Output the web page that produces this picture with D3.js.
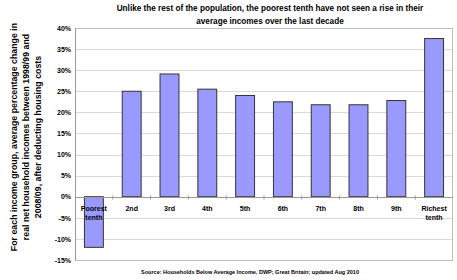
<!DOCTYPE html>
<html>
<head>
<meta charset="utf-8">
<style>
  body { margin: 0; background: #fff; font-family: "Liberation Sans", Arial, sans-serif; }
  text { font-weight: bold; fill: #000; }
</style>
<script src="https://cdn.jsdelivr.net/npm/d3@7"></script>
</head>
<body>
<script>
// chart data
var groups = ["Poorest tenth", "2nd", "3rd", "4th", "5th", "6th", "7th", "8th", "9th", "Richest tenth"];
var changes = [-12, 25, 29.1, 25.5, 24, 22.5, 21.8, 21.8, 22.8, 37.5];
var yTicks = [-15, -10, -5, 0, 5, 10, 15, 20, 25, 30, 35, 40];

var titleLines = ["Unlike the rest of the population, the poorest tenth have not seen a rise in their",
                  "average incomes over the last decade"];
var yLabelLines = ["For each income group, average percentage change in",
                   "real net household incomes between 1998/99 and",
                   "2008/09, after deducting housing costs"];
var sourceText = "Source: Households Below Average Income, DWP; Great Britain; updated Aug 2010";

var W = 457, H = 280;
var plot = {left: 75, right: 453, top: 28, bottom: 260};

var svg = d3.select("body").append("svg")
  .attr("width", W)
  .attr("height", H);

var x = d3.scaleBand().domain(groups).range([plot.left, plot.right]).paddingInner(0.5).paddingOuter(0.25);
var y = d3.scaleLinear().domain([-15, 40]).range([plot.bottom, plot.top]);

// gridlines
svg.append("g").selectAll("line")
  .data(yTicks)
  .enter().append("line")
  .attr("x1", plot.left).attr("x2", plot.right)
  .attr("y1", function(d) { return Math.round(y(d)) + 0.5; })
  .attr("y2", function(d) { return Math.round(y(d)) + 0.5; })
  .style("stroke", "#d9d9d9").style("stroke-width", 1);

// plot frame
svg.append("rect")
  .attr("x", plot.left + 0.5).attr("y", plot.top + 0.5)
  .attr("width", plot.right - plot.left - 1).attr("height", plot.bottom - plot.top)
  .style("fill", "none").style("stroke", "#bdbdbd");

// y axis
var yAxis = d3.axisLeft(y).tickValues(yTicks).tickSize(0).tickPadding(4)
  .tickFormat(function(d) { return d + "%"; });
var ya = svg.append("g").attr("transform", "translate(" + plot.left + ",0)").call(yAxis);
ya.select(".domain").style("stroke", "#999");
ya.selectAll("text").style("font-size", "7px").style("font-weight", "bold")
  .style("font-family", "Liberation Sans, Arial, sans-serif");

// bars
svg.append("g").selectAll("rect")
  .data(changes)
  .enter().append("rect")
  .attr("x", function(d, i) { return x(groups[i]); })
  .attr("width", x.bandwidth())
  .attr("y", function(d) { return y(Math.max(0, d)); })
  .attr("height", function(d) { return Math.abs(y(d) - y(0)); })
  .style("fill", "#9999ff").style("stroke", "#333").style("stroke-width", 1);

// zero axis with category ticks
var zeroY = Math.round(y(0)) + 0.5;
svg.append("line")
  .attr("x1", plot.left).attr("x2", plot.right)
  .attr("y1", zeroY).attr("y2", zeroY)
  .style("stroke", "#999");
var bounds = d3.range(1, groups.length).map(function(i) { return plot.left + i * (plot.right - plot.left) / groups.length; });
svg.append("g").selectAll("line")
  .data(bounds)
  .enter().append("line")
  .attr("x1", function(d) { return d; }).attr("x2", function(d) { return d; })
  .attr("y1", zeroY - 2).attr("y2", zeroY + 2)
  .style("stroke", "#999");

// category labels
var catLabels = svg.append("g").selectAll("text")
  .data(groups)
  .enter().append("text")
  .attr("x", function(d) { return x(d) + x.bandwidth() / 2; })
  .attr("y", zeroY + 13)
  .attr("text-anchor", "middle")
  .style("font-size", "7px");
catLabels.each(function(d) {
  var words = d.split(" ");
  var t = d3.select(this);
  words.forEach(function(w, k) {
    t.append("tspan").attr("x", t.attr("x")).attr("dy", k === 0 ? 0 : 9).text(w);
  });
});

// title
svg.append("g").selectAll("text")
  .data(titleLines)
  .enter().append("text")
  .attr("x", 270).attr("y", function(d, i) { return 11 + i * 12.5; })
  .attr("text-anchor", "middle")
  .style("font-size", "8.2px")
  .text(function(d) { return d; });

// y label
svg.append("g")
  .attr("transform", "translate(0,137) rotate(-90)")
  .selectAll("text")
  .data(yLabelLines)
  .enter().append("text")
  .attr("x", 0).attr("y", function(d, i) { return 17 + i * 12; })
  .attr("text-anchor", "middle")
  .style("font-size", "8.8px")
  .text(function(d) { return d; });

// source
svg.append("text")
  .attr("x", 250).attr("y", 274)
  .attr("text-anchor", "middle")
  .style("font-size", "5.5px")
  .text(sourceText);
</script>
</body>
</html>
